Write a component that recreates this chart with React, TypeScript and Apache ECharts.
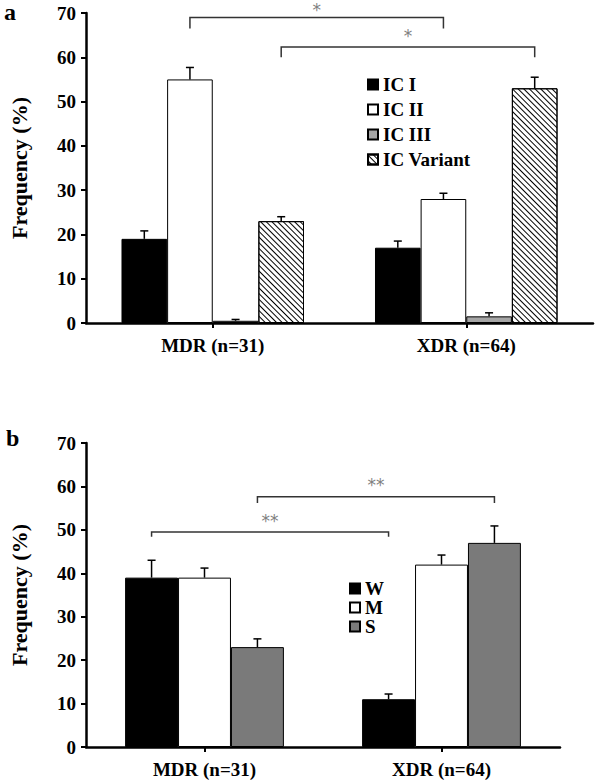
import React, { useEffect, useRef } from "react";
import * as echarts from "echarts";

const categories = ["MDR (n=31)", "XDR (n=64)"];

const icNames = ["IC I", "IC II", "IC III", "IC Variant"];
const icValues = [
  [19, 17],
  [55, 28],
  [0.5, 1.5],
  [23, 53],
];
const icErrorTops = [
  [20.8, 18.5],
  [57.7, 29.3],
  [0.8, 2.3],
  [24, 55.5],
];

const sevNames = ["W", "M", "S"];
const sevValues = [
  [39, 11],
  [39, 42],
  [23, 47],
];
const sevErrorTops = [
  [43, 12.2],
  [41.2, 44.2],
  [24.9, 50.9],
];

const yMin = 0;
const yMax = 70;
const yInterval = 10;

// significance brackets: [category, barIndex] endpoints, line level, leg end, star level (top of text box)
const bracketsA = [
  { from: [0, 1], to: [1, 1], y: 69, leg: 66.5, starY: 72.7, label: "*" },
  { from: [0, 3], to: [1, 3], y: 62.3, leg: 60, starY: 66.8, label: "*" },
];
const bracketsB = [
  { from: [0, 2], to: [1, 2], y: 57.6, leg: 56.2, starY: 62.2, label: "**" },
  { from: [0, 0], to: [1, 0], y: 49.5, leg: 48.4, starY: 53.9, label: "**" },
];

const FONT = "'Liberation Serif', 'Times New Roman', serif";
const GAP_A = 0.28;
const GAP_B = 0.33;

const icColors = ["#000000", "#ffffff", "#a6a6a6", "#ffffff"];
const sevColors = ["#000000", "#ffffff", "#7a7a7a"];

function errorSeries(tops: number[], values: number[], idx: number, n: number, gap: number, axis: number) {
  return {
    type: "custom",
    xAxisIndex: axis,
    yAxisIndex: axis,
    z: 5,
    itemStyle: { color: "#000" },
    data: values.map((v, c) => [c, v, tops[c]]),
    renderItem: (params: any, api: any) => {
      const c = api.value(0);
      const v = api.value(1);
      const e = api.value(2);
      const cw = api.size([1, 0])[0];
      const bw = (cw * (1 - gap)) / n;
      const p0 = api.coord([c, v]);
      const p1 = api.coord([c, e]);
      const x = p0[0] + (idx - (n - 1) / 2) * bw;
      return {
        type: "group",
        children: [
          { type: "line", shape: { x1: x, y1: p0[1], x2: x, y2: p1[1] }, style: { stroke: "#000", lineWidth: 1.5 } },
          { type: "line", shape: { x1: x - 4, y1: p1[1], x2: x + 4, y2: p1[1] }, style: { stroke: "#000", lineWidth: 1.5 } },
        ],
      };
    },
  };
}

function bracketSeries(list: any[], n: number, gap: number, axis: number) {
  return {
    type: "custom",
    xAxisIndex: axis,
    yAxisIndex: axis,
    z: 6,
    clip: false,
    itemStyle: { color: "#777" },
    data: list.map((b) => [b.from[0], b.y]),
    renderItem: (params: any, api: any) => {
      const b = list[params.dataIndex];
      const cw = api.size([1, 0])[0];
      const bw = (cw * (1 - gap)) / n;
      const x1 = api.coord([b.from[0], b.y])[0] + (b.from[1] - (n - 1) / 2) * bw;
      const x2 = api.coord([b.to[0], b.y])[0] + (b.to[1] - (n - 1) / 2) * bw;
      const yl = api.coord([0, b.y])[1];
      const yg = api.coord([0, b.leg])[1];
      const ys = api.coord([0, b.starY])[1];
      return {
        type: "group",
        children: [
          {
            type: "polyline",
            shape: { points: [[x1, yg], [x1, yl], [x2, yl], [x2, yg]] },
            style: { stroke: "#333", lineWidth: 1.5, fill: null },
          },
          {
            type: "text",
            x: (x1 + x2) / 2,
            y: ys,
            style: {
              text: b.label,
              fill: "#808080",
              font: "17px 'DejaVu Sans', sans-serif",
              align: "center",
              verticalAlign: "top",
            },
          },
        ],
      };
    },
  };
}

function yAxisCfg(idx: number) {
  return {
    type: "value",
    gridIndex: idx,
    min: yMin,
    max: yMax,
    interval: yInterval,
    name: "Frequency (%)",
    nameLocation: "middle",
    nameGap: 56,
    nameTextStyle: { fontFamily: FONT, fontWeight: "bold", fontSize: 22, color: "#000" },
    axisLine: { show: true, lineStyle: { color: "#000", width: 2.5 } },
    axisTick: { show: true, length: 5, lineStyle: { color: "#000", width: 2 } },
    splitLine: { show: false },
    axisLabel: { fontFamily: FONT, fontWeight: "bold", fontSize: 19, color: "#000", margin: 10 },
  };
}

function xAxisCfg(idx: number) {
  return {
    type: "category",
    gridIndex: idx,
    data: categories,
    axisLine: { show: true, lineStyle: { color: "#000", width: 2.5 } },
    axisTick: { show: true, alignWithLabel: true, length: 5, lineStyle: { color: "#000", width: 2 } },
    axisLabel: { fontFamily: FONT, fontWeight: "bold", fontSize: 19, color: "#000", margin: 13 },
  };
}

export default function App() {
  const ref = useRef<HTMLDivElement>(null);
  useEffect(() => {
    if (!ref.current) return;
    const chart = echarts.init(ref.current, undefined, { renderer: "svg" });

    const barsA = icNames.map((name, i) => ({
      name,
      type: "bar",
      xAxisIndex: 0,
      yAxisIndex: 0,
      barGap: "0%",
      barCategoryGap: GAP_A * 100 + "%",
      data: icValues[i],
      itemStyle: {
        color: icColors[i],
        borderColor: "#000",
        borderWidth: 1,
        ...(i === 3
          ? {
              decal: {
                symbol: "rect",
                symbolSize: 1,
                color: "#000",
                dashArrayX: [1, 0],
                dashArrayY: [0.8, 2.4],
                rotation: Math.PI / 4,
              },
            }
          : {}),
      },
    }));

    const barsB = sevNames.map((name, i) => ({
      name,
      type: "bar",
      xAxisIndex: 1,
      yAxisIndex: 1,
      barGap: "0%",
      barCategoryGap: GAP_B * 100 + "%",
      data: sevValues[i],
      itemStyle: { color: sevColors[i], borderColor: "#000", borderWidth: 1 },
    }));

    const errA = icNames.map((_, i) => errorSeries(icErrorTops[i], icValues[i], i, icNames.length, GAP_A, 0));
    const errB = sevNames.map((_, i) => errorSeries(sevErrorTops[i], sevValues[i], i, sevNames.length, GAP_B, 1));

    chart.setOption({
      animation: false,
      backgroundColor: "#fff",
      textStyle: { fontFamily: FONT },
      grid: [
        { left: 76, top: 13, width: 517, height: 310 },
        { left: 76, top: 443, width: 484, height: 304 },
      ],
      xAxis: [xAxisCfg(0), xAxisCfg(1)],
      yAxis: [yAxisCfg(0), yAxisCfg(1)],
      legend: [
        {
          data: icNames,
          orient: "vertical",
          left: 362,
          top: 70,
          itemWidth: 10,
          itemHeight: 10,
          itemGap: 6,
          icon: "rect",
          textStyle: { fontFamily: FONT, fontWeight: "bold", fontSize: 19, color: "#000" },
          selectedMode: false,
        },
        {
          data: sevNames,
          orient: "vertical",
          left: 344,
          top: 574,
          itemWidth: 10,
          itemHeight: 10,
          itemGap: 0,
          icon: "rect",
          textStyle: { fontFamily: FONT, fontWeight: "bold", fontSize: 19, color: "#000" },
          selectedMode: false,
        },
      ],
      graphic: [
        { type: "text", left: 4, top: 0, style: { text: "a", font: `bold 24px ${FONT}`, fill: "#000" } },
        { type: "text", left: 6, top: 426, style: { text: "b", font: `bold 24px ${FONT}`, fill: "#000" } },
      ],
      series: [
        ...barsA,
        ...barsB,
        ...errA,
        ...errB,
        bracketSeries(bracketsA, icNames.length, GAP_A, 0),
        bracketSeries(bracketsB, sevNames.length, GAP_B, 1),
      ],
    });
    return () => chart.dispose();
  }, []);
  return <div ref={ref} style={{ position: "fixed", left: 0, top: 0, width: 598, height: 780 }} />;
}
